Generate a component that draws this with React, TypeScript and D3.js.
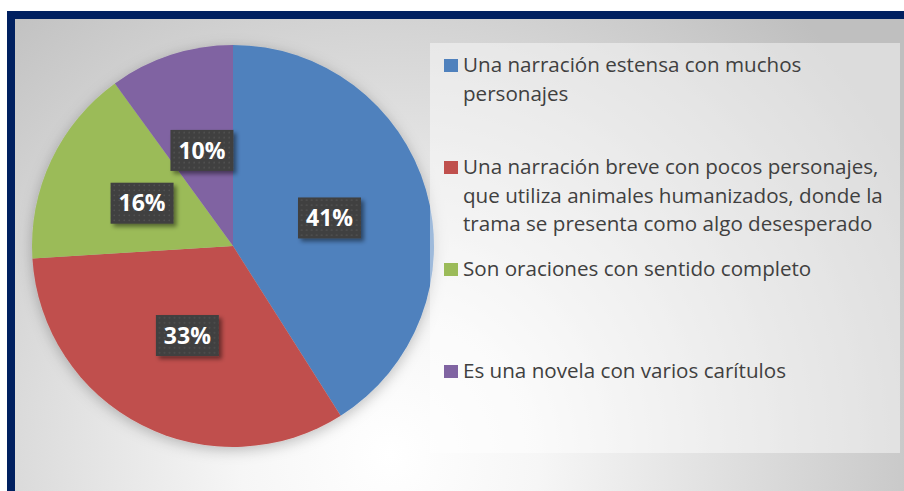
import React from "react";
import * as d3 from "d3";

const categories: string[][] = [
  ["Una narración estensa con muchos", "personajes"],
  ["Una narración breve con pocos personajes,", "que utiliza animales humanizados, donde la", "trama se presenta como algo desesperado"],
  ["Son oraciones con sentido completo"],
  ["Es una novela con varios carítulos"],
];
const values: number[] = [41, 33, 16, 10];
const percentLabels: string[] = ["41%", "33%", "16%", "10%"];
const colors: string[] = ["#4f81bd", "#c0504d", "#9bbb59", "#8064a2"];

const W = 904;
const H = 491;

export default function App() {
  const cx = 233;
  const cy = 246;
  const r = 201;
  const pie = d3.pie<number>().sort(null).value((d) => d)(values);
  const arc = d3.arc<d3.PieArcDatum<number>>().innerRadius(0).outerRadius(r);

  const legendY = d3.scalePoint<number>().domain(d3.range(categories.length)).range([72, 378]);
  const lineH = 28.5;

  return (
    <svg width={W} height={H} style={{ position: "absolute", left: 0, top: 0, display: "block" }}>
      <defs>
        <radialGradient id="bg" gradientUnits="userSpaceOnUse" cx={390} cy={455} r={600}>
          <stop offset="0" stopColor="#ffffff" />
          <stop offset="0.25" stopColor="#f6f6f6" />
          <stop offset="1" stopColor="#bfbfbf" />
        </radialGradient>
        <pattern id="dots" width={5} height={5} patternUnits="userSpaceOnUse">
          <rect width={5} height={5} fill="#3f3f3f" />
          <rect x={1.5} y={1.5} width={1.5} height={1.5} fill="#545454" />
        </pattern>
        <filter id="pieShadow" x="-20%" y="-20%" width="140%" height="140%">
          <feDropShadow dx={0} dy={3} stdDeviation={7} floodColor="#000" floodOpacity={0.25} />
        </filter>
        <filter id="boxShadow" x="-30%" y="-30%" width="160%" height="160%">
          <feDropShadow dx={3} dy={3} stdDeviation={2} floodColor="#000" floodOpacity={0.45} />
        </filter>
      </defs>
      <rect x={0} y={0} width={W} height={H} fill="#ffffff" />
      <rect x={7} y={11} width={W - 7} height={H - 11} fill="#002060" />
      <rect x={15} y={19} width={W - 15} height={H - 19} fill="url(#bg)" />

      <g transform={`translate(${cx},${cy})`}>
        <g filter="url(#pieShadow)">
          {pie.map((p, i) => (
            <path key={i} d={arc(p) || ""} fill={colors[i]} />
          ))}
        </g>
        {pie.map((p, i) => {
          const [x, y] = arc.centroid(p);
          const bw = 63;
          const bh = 41;
          return (
            <g key={"l" + i} transform={`translate(${x},${y})`}>
              <rect x={-bw / 2} y={-bh / 2} width={bw} height={bh} fill="url(#dots)" filter="url(#boxShadow)" />
              <text
                x={0}
                y={0}
                dy="0.36em"
                textAnchor="middle"
                fill="#ffffff"
                fontFamily="'Open Sans', sans-serif"
                fontWeight={700}
                fontSize={23}
              >
                {percentLabels[i]}
              </text>
            </g>
          );
        })}
      </g>

      <rect x={430} y={43} width={470} height={410} fill="#ffffff" fillOpacity={0.45} />
      {categories.map((lines, i) => {
        const y0 = legendY(i) as number;
        return (
          <g key={"lg" + i}>
            <rect x={444} y={y0 - 13} width={14} height={13} fill={colors[i]} />
            <text fontFamily="'Open Sans', sans-serif" fontSize={20.6} fill="#404040">
              {lines.map((ln, j) => (
                <tspan key={j} x={463} y={y0 + j * lineH}>
                  {ln}
                </tspan>
              ))}
            </text>
          </g>
        );
      })}
    </svg>
  );
}
